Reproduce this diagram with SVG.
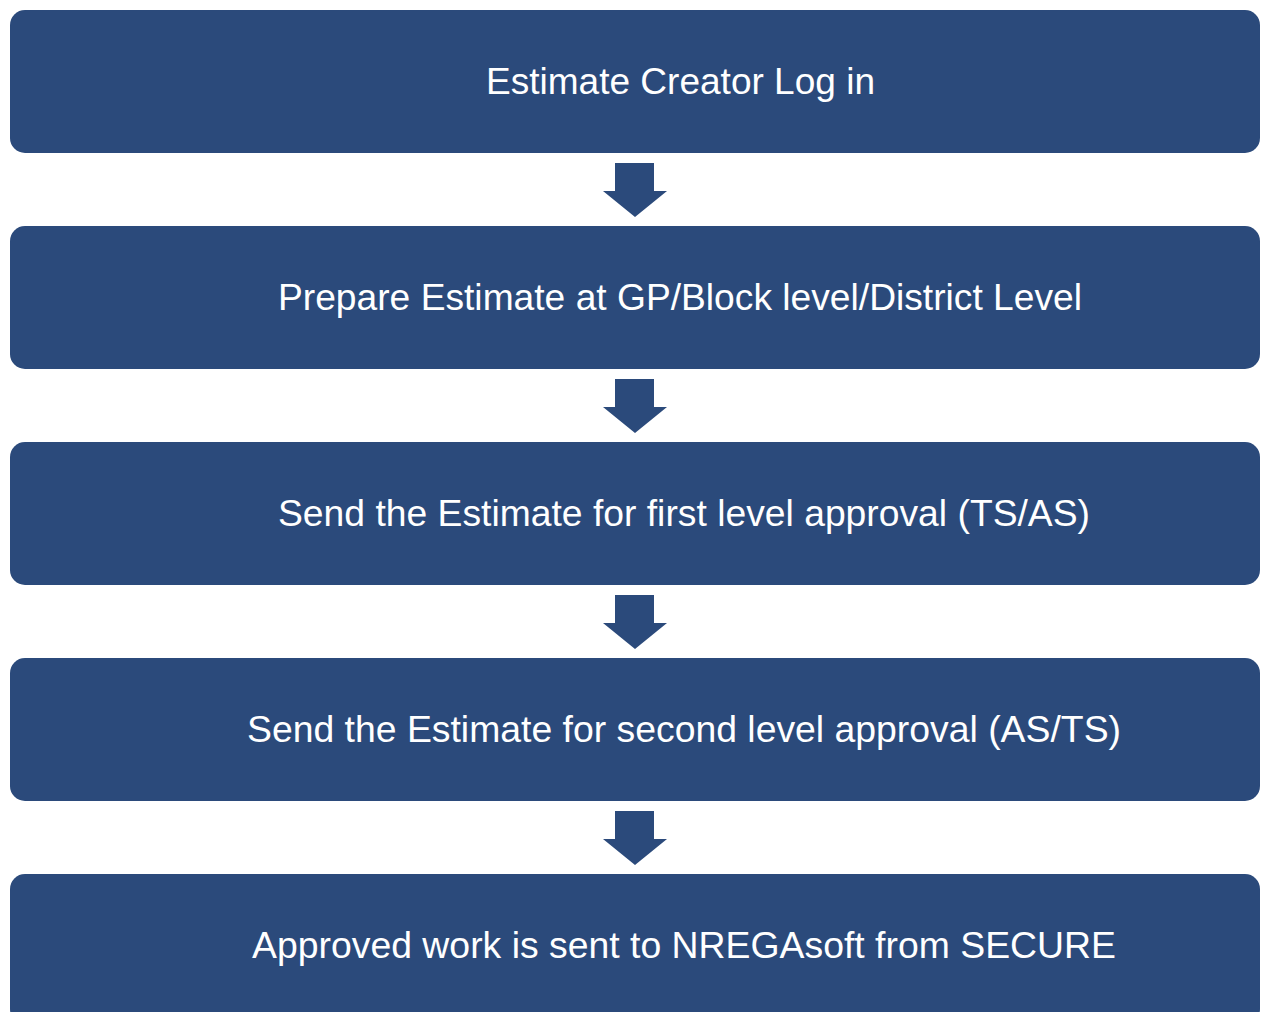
<svg xmlns="http://www.w3.org/2000/svg" width="1264" height="1012" viewBox="0 0 1264 1012">
<defs>
<style>
.box{fill:#2B4A7B;}
.lbl{fill:#FFFFFF;font-family:"Liberation Sans",Arial,sans-serif;font-size:37px;}
.arr{fill:#2B4A7B;}
</style>
</defs>
<rect width="1264" height="1012" fill="#FFFFFF"/>
<g id="connectors">
<polygon class="arr" points="615,163 654,163 654,191 667,191 635,217 603,191 615,191"/>
<polygon class="arr" points="615,379 654,379 654,407 667,407 635,433 603,407 615,407"/>
<polygon class="arr" points="615,595 654,595 654,623 667,623 635,649 603,623 615,623"/>
<polygon class="arr" points="615,811 654,811 654,839 667,839 635,865 603,839 615,839"/>
</g>
<g id="node1">
<rect class="box" x="10" y="10" width="1250" height="143" rx="15"/>
<text class="lbl" x="486" y="94" textLength="389" lengthAdjust="spacingAndGlyphs">Estimate Creator Log in</text>
</g>
<g id="node2">
<rect class="box" x="10" y="226" width="1250" height="143" rx="15"/>
<text class="lbl" x="278" y="310" textLength="804" lengthAdjust="spacingAndGlyphs">Prepare Estimate at GP/Block level/District Level</text>
</g>
<g id="node3">
<rect class="box" x="10" y="442" width="1250" height="143" rx="15"/>
<text class="lbl" x="278" y="526" textLength="812" lengthAdjust="spacingAndGlyphs">Send the Estimate for first level approval (TS/AS)</text>
</g>
<g id="node4">
<rect class="box" x="10" y="658" width="1250" height="143" rx="15"/>
<text class="lbl" x="247" y="742" textLength="874" lengthAdjust="spacingAndGlyphs">Send the Estimate for second level approval (AS/TS)</text>
</g>
<g id="node5">
<rect class="box" x="10" y="874" width="1250" height="150" rx="15"/>
<text class="lbl" x="252" y="958" textLength="864" lengthAdjust="spacingAndGlyphs">Approved work is sent to NREGAsoft from SECURE</text>
</g>
</svg>
